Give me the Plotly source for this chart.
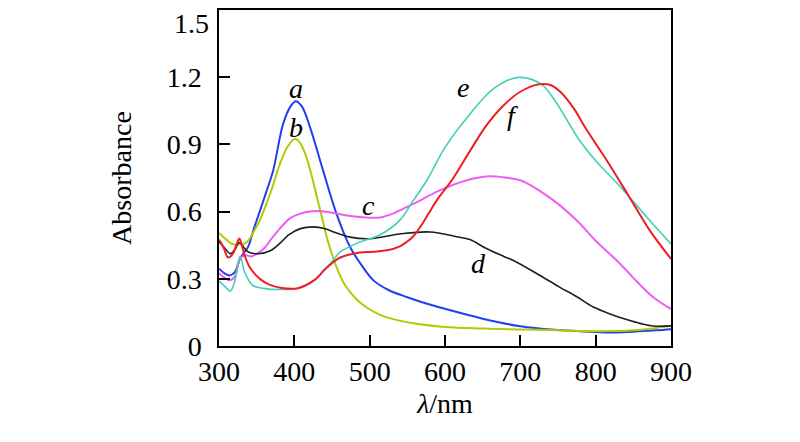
import plotly.graph_objects as go

# curve a (blue)
wl_a = [300, 307, 314, 321, 328, 334, 339, 345, 354, 363, 372, 385, 395, 402, 410, 421, 438, 456, 474,
        491, 505, 525, 549, 575, 600, 650, 700, 745, 780, 815, 850, 880, 900]
abs_a = [0.345, 0.325, 0.315, 0.33, 0.39, 0.42, 0.445, 0.51, 0.6, 0.69, 0.785, 0.99, 1.07, 1.093, 1.07,
         0.975, 0.785, 0.59, 0.442, 0.352, 0.293, 0.25, 0.219, 0.19, 0.166, 0.122, 0.088, 0.072, 0.066,
         0.06, 0.064, 0.07, 0.075]

# curve b (yellow-green)
wl_b = [300, 308, 316, 322, 328, 334, 340, 346, 354, 363, 372, 381, 392, 401, 408, 416, 423, 430, 437,
        443, 450, 456, 465, 478, 486, 496, 513, 531, 560, 600, 650, 700, 750, 800, 850, 880, 900]
abs_b = [0.505, 0.48, 0.458, 0.452, 0.455, 0.457, 0.475, 0.51, 0.56, 0.635, 0.72, 0.814, 0.895, 0.925,
         0.905, 0.843, 0.76, 0.665, 0.57, 0.486, 0.41, 0.352, 0.285, 0.225, 0.197, 0.172, 0.14, 0.12, 0.1,
         0.085, 0.078, 0.074, 0.07, 0.066, 0.07, 0.08, 0.09]

# curve c (magenta)
wl_c = [300, 307, 314, 321, 328, 335, 343, 354, 361, 370, 381, 394, 407, 420, 434, 447, 461, 480, 500,
        514, 530, 549, 570, 593, 629, 655, 680, 700, 744, 775, 800, 830, 855, 876, 900]
abs_c = [0.325, 0.305, 0.293, 0.31, 0.39, 0.405, 0.4, 0.42, 0.44, 0.48, 0.525, 0.57, 0.59, 0.6, 0.602,
         0.597, 0.588, 0.578, 0.573, 0.574, 0.59, 0.62, 0.655, 0.695, 0.74, 0.757, 0.752, 0.74, 0.65,
         0.56, 0.47, 0.375, 0.287, 0.219, 0.165]

# curve d (black)
wl_d = [300, 307, 315, 321, 327, 333, 339, 352, 368, 385, 392, 408, 425, 440, 452, 474, 500, 540, 580,
        615, 633, 655, 678, 691, 726, 752, 775, 797, 820, 841, 860, 877, 900]
abs_d = [0.465, 0.44, 0.412, 0.43, 0.462, 0.44, 0.42, 0.412, 0.425, 0.472, 0.495, 0.524, 0.532, 0.525,
         0.509, 0.486, 0.479, 0.5, 0.509, 0.488, 0.475, 0.435, 0.4, 0.382, 0.315, 0.263, 0.22, 0.174,
         0.142, 0.118, 0.1, 0.089, 0.09]

# curve e (turquoise)
wl_e = [300, 308, 315, 321, 328, 334, 340, 345, 361, 380, 405, 427, 440, 452, 461, 487, 514, 540, 558,
        576, 600, 633, 665, 698, 728, 744, 779, 800, 833, 868, 900]
abs_e = [0.29, 0.265, 0.245, 0.29, 0.4, 0.33, 0.29, 0.27, 0.256, 0.252, 0.258, 0.295, 0.34, 0.385, 0.42,
         0.464, 0.497, 0.561, 0.65, 0.74, 0.887, 1.035, 1.15, 1.199, 1.168, 1.105, 0.916, 0.827, 0.71,
         0.575, 0.456]

# curve f (red)
wl_f = [300, 306, 312, 318, 323, 327, 331, 335, 341, 348, 356, 366, 383, 405, 427, 440, 452, 461, 487,
        505, 523, 540, 549, 558, 567, 578, 589, 609, 633, 655, 678, 700, 724, 740, 753, 770, 788, 815,
        842, 872, 900]
abs_f = [0.475, 0.44, 0.395, 0.41, 0.45, 0.48, 0.44, 0.395, 0.35, 0.32, 0.295, 0.275, 0.259, 0.258,
         0.295, 0.34, 0.375, 0.395, 0.417, 0.421, 0.427, 0.445, 0.464, 0.49, 0.531, 0.59, 0.65, 0.74,
         0.87, 0.985, 1.075, 1.135, 1.168, 1.165, 1.135, 1.065, 0.965, 0.827, 0.68, 0.515, 0.389]

curve_names = ["a", "b", "c", "d", "e", "f"]
label_x = [402, 402, 498, 645, 624, 690]
label_y = [1.15, 0.977, 0.628, 0.369, 1.154, 1.029]

# 1.5 sits on the top frame, its label is drawn separately (shifted down like the original)
y_ticks = [0, 0.3, 0.6, 0.9, 1.2]
y_ticktext = ["0", "0.3", "0.6", "0.9", "1.2"]
y_top_label = "1.5"

series = [
    (wl_a, abs_a, "#2040F0", 2),
    (wl_b, abs_b, "#B0CC00", 2),
    (wl_c, abs_c, "#F05CF0", 2),
    (wl_d, abs_d, "#1C2020", 1.6),
    (wl_e, abs_e, "#40D0B8", 1.6),
    (wl_f, abs_f, "#F01C28", 2),
]

serif = "Liberation Serif, Times New Roman, serif"

fig = go.Figure()
for (wl, ab, col, w), name in zip(series, curve_names):
    fig.add_trace(go.Scatter(x=wl, y=ab, mode="lines", name=name,
                             line=dict(color=col, width=w, shape="spline", smoothing=1.0)))

for name, lx, ly in zip(curve_names, label_x, label_y):
    fig.add_annotation(x=lx, y=ly, text="<i>%s</i>" % name, showarrow=False,
                       font=dict(family=serif, size=28, color="black"))

fig.add_annotation(x=0, xref="paper", y=1.5, yref="y", text=y_top_label, showarrow=False,
                   xanchor="right", yanchor="top", xshift=-8, yshift=4,
                   font=dict(family=serif, size=28, color="black"))

# page body adds ~8px offset, so margins are shifted to compensate
fig.update_layout(
    width=800, height=442,
    margin=dict(l=211, r=137, t=2, b=104),
    paper_bgcolor="white", plot_bgcolor="white",
    showlegend=False,
    font=dict(family=serif, size=28, color="black"),
)
fig.update_xaxes(
    range=[300, 900], dtick=100, ticks="inside", ticklen=11, tickwidth=1.5, tickcolor="black",
    showline=True, linewidth=1.5, linecolor="black", mirror=True, showgrid=False, zeroline=False,
    ticklabelstandoff=0, automargin=False,
    title=dict(text="<i>λ</i>/nm", standoff=7, font=dict(family=serif, size=28)),
)
fig.update_yaxes(
    range=[0, 1.5], tickvals=y_ticks, ticktext=y_ticktext, ticks="inside", ticklen=11,
    tickwidth=1.5, tickcolor="black",
    showline=True, linewidth=1.5, linecolor="black", mirror=True, showgrid=False, zeroline=False,
    ticklabelstandoff=10, automargin=False,
    title=dict(text="Absorbance", standoff=27, font=dict(family=serif, size=28)),
)

fig.write_html("out.html")
